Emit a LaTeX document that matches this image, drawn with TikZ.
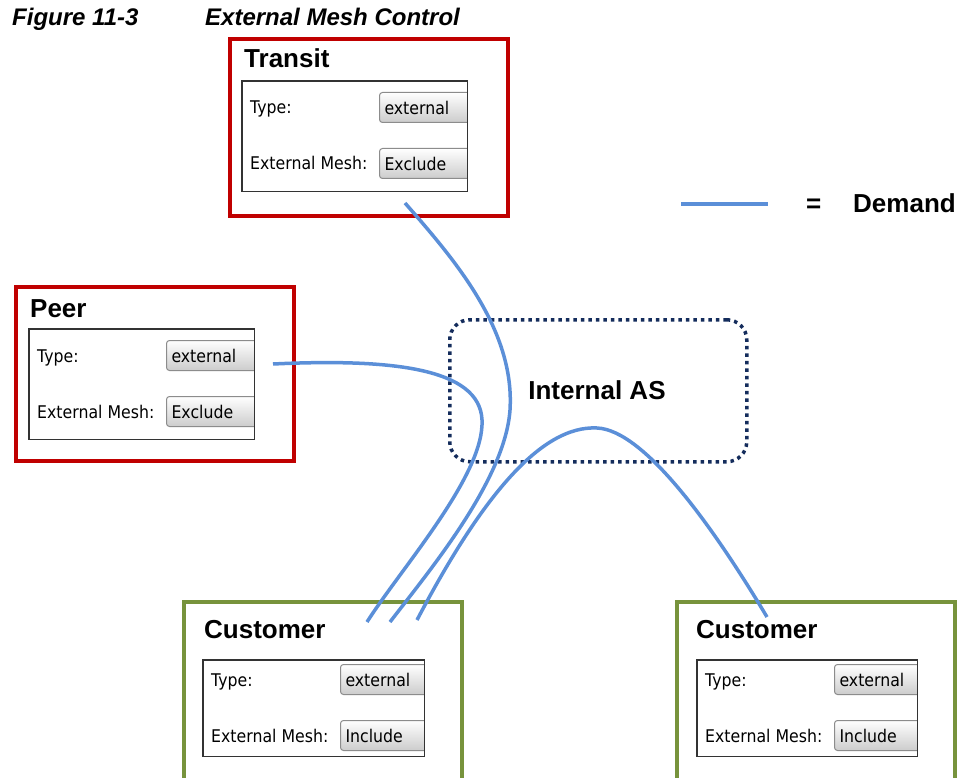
\documentclass[tikz,border=0pt]{standalone}
\usepackage{fontspec}
\setsansfont{Liberation Sans}
\newfontfamily\formfont[FakeStretch=0.9]{DejaVu Sans}
\usetikzlibrary{positioning}
\definecolor{transitred}{HTML}{C00000}
\definecolor{custgreen}{HTML}{77933C}
\definecolor{asnavy}{HTML}{142C5C}
\definecolor{demandblue}{HTML}{5B8FD8}
\tikzset{
	outer box/.style={
		draw,
		line width=4pt,
		minimum width=278pt,
		anchor=north west,
		inner sep=0pt
	},
	form box/.style={
		fill=white,
		anchor=north west,
		inner sep=0pt
	},
	drop down/.style={
		draw=black!45,
		line width=1pt,
		rounded corners=3pt,
		top color=white,
		bottom color=black!20,
		minimum height=30pt,
		text width=89pt,
		inner xsep=5pt,
		align=left,
		anchor=west,
		font=\formfont\fontsize{17.5}{20}\selectfont
	},
	form text/.style={
		font=\formfont\fontsize{17.5}{20}\selectfont,
		anchor=base west,
		inner sep=0pt
	},
	head text/.style={
		font=\sffamily\bfseries\fontsize{26}{30}\selectfont,
		anchor=base west,
		inner sep=0pt
	},
	demand/.style={
		draw=demandblue,
		line width=3.5pt
	},
}
% form panel: name, top left x, y, width, height, first row, mesh value
\newcommand{\formpanel}[7]{%
	\node[form box, minimum width=#4pt, minimum height=#5pt] (#1) at (#2,#3) {};
	\begin{scope}
		\clip (#1.north west) rectangle (#1.south east);
		\node[drop down] (#1-typeval) at ({#2+137},{#3+#6}) {external};
		\node[drop down] (#1-meshval) at ({#2+137},{#3+#6+56}) {#7};
	\end{scope}
	\draw[black!80, line width=1.3pt] (#1.north west) rectangle (#1.south east);
	\node[form text] (#1-type) at ({#2+8},{#3+#6+6.5}) {Type:};
	\node[form text] (#1-mesh) at ({#2+8},{#3+#6+62.5}) {External Mesh:};
}

\begin{document}
\begin{tikzpicture}[x=1pt,y=-1pt]
\useasboundingbox (0,0) rectangle (961,778);

% caption
\node[head text, font=\sffamily\bfseries\itshape\fontsize{24}{28}\selectfont] (fignum) at (12,26) {Figure 11-3};
\node[head text, font=\sffamily\bfseries\itshape\fontsize{24}{28}\selectfont] (figtitle) at (205,26) {External Mesh Control};

% outer boxes
\node[outer box, draw=transitred, minimum height=177pt] (transit) at (228,37) {};
\node[outer box, draw=transitred, minimum height=174pt] (peer) at (14,285) {};
\node[outer box, draw=custgreen, minimum height=200pt] (custL) at (182,600) {};
\node[outer box, draw=custgreen, minimum height=200pt] (custR) at (675,600) {};

\node[head text] (transit-title) at (244,68) {Transit};
\node[head text] (peer-title) at (30,317) {Peer};
\node[head text] (custL-title) at (204,638) {Customer};
\node[head text] (custR-title) at (696,638) {Customer};

\formpanel{transitform}{242}{81}{225}{110}{26.5}{Exclude}
\formpanel{peerform}{29}{329}{225}{110}{26.5}{Exclude}
\formpanel{custLform}{203}{660}{221}{96}{19.5}{Include}
\formpanel{custRform}{697}{660}{220}{96}{19.5}{Include}

% internal AS
\node[draw=asnavy, line width=3.5pt, dash pattern=on 3.5pt off 4pt, rounded corners=20pt,
	minimum width=297pt, minimum height=142pt, anchor=north west] (intas) at (448,318) {};
\node[font=\sffamily\bfseries\fontsize{26}{30}\selectfont] (intas-label) at (597,390) {Internal AS};

% demands
\coordinate (peerEnd) at (273,364);
\coordinate (transitEnd) at (405,203);
\coordinate (custA) at (367,622);
\coordinate (custB) at (390,622);
\coordinate (custC) at (417,620);
\coordinate (custREnd) at (767,617);
\coordinate (asPeak) at (597,428);

\draw[demand] (peerEnd) .. controls (400,358) and (485,370) .. (482,425)
	.. controls (480,480) and (400,570) .. (custA);
\draw[demand] (transitEnd) .. controls (455,260) and (515,330) .. (510,410)
	.. controls (505,480) and (430,570) .. (custB);
\draw[demand] (custC) .. controls (480,500) and (540,425) .. (asPeak)
	.. controls (645,430) and (715,530) .. (custREnd);

% legend
\coordinate (legA) at (681,204);
\coordinate (legB) at (768,204);
\draw[demand] (legA) -- (legB);
\node[head text] (legEq) at (806,213) {=};
\node[head text] (legText) at (853,213) {Demand};

\end{tikzpicture}
\end{document}
